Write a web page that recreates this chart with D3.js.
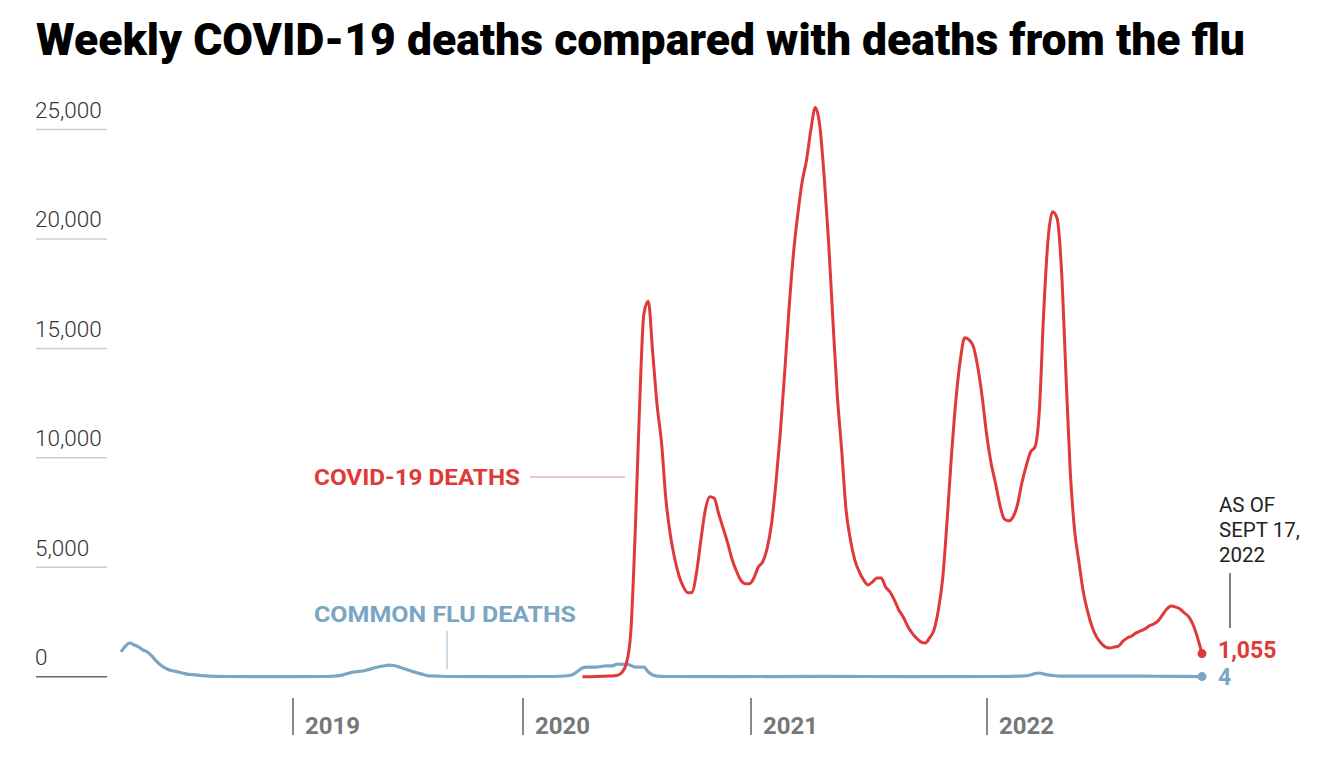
<!DOCTYPE html>
<html><head><meta charset="utf-8">
<script src="https://cdn.jsdelivr.net/npm/d3@7"></script>
<style>body{margin:0;background:#fff;} svg{display:block}</style>
</head><body><svg id="c" width="1322" height="760"></svg>
<script>
// ---------- DATA ----------
const titleText = "Weekly COVID-19 deaths compared with deaths from the flu";
const startDate = "2017-12-30";   // week 0
const endDate = "2022-09-17";     // last reported week
const yTickValues = [0, 5000, 10000, 15000, 20000, 25000];
const yearTickDates = ["2018-09-30", "2019-10-01", "2020-09-29", "2021-10-10"];
const yearTickLabels = ["2019", "2020", "2021", "2022"];
const asOfLines = ["AS OF", "SEPT 17,", "2022"];
const covidLabel = "COVID-19 DEATHS";
const fluLabel = "COMMON FLU DEATHS";

const fluWeek = [0,1,2,3,4,5,6,7,8,9,10,11,12,13,14,15,16,17,18,20,24,30,40,46,48,50,52,53,55,56,58,60,61,62,63,64,65,66,67,68,69,70,72,75,85,95,100,102,103,104,105,106,108,110,112,113,114,115,116,117,118,119,120,121,122,124,140,160,180,200,205,207,208,209,210,211,212,214,225,235,246];
const fluDeaths = [1130,1400,1540,1450,1360,1220,1130,950,720,530,400,310,260,215,170,120,100,80,55,30,10,5,5,10,20,60,170,215,260,310,420,500,530,510,460,400,330,260,200,140,90,40,30,10,5,10,20,55,120,260,400,440,440,490,510,580,560,580,510,440,440,440,215,80,30,10,5,15,5,10,30,80,145,170,120,80,55,30,30,20,4];

const covidWeek = [105,108,111,113,114,115,116,117,118,119,120,121,122,123,124,125,126,127,128,129,130,131,132,133,134,135,136,137,138,139,140,141,142,143,144,145,146,147,148,149,150,151,152,153,154,155,156,157,158,159,160,161,162,163,164,165,166,167,168,169,170,171,172,173,174,175,176,177,178,179,180,181,182,183,184,185,186,187,188,189,190,191,192,193,194,195,196,197,198,199,200,201,202,203,204,205,206,207,208,209,210,211,212,213,214,215,216,217,218,219,220,221,222,223,224,225,226,227,228,229,230,231,232,233,234,235,236,237,238,239,240,241,242,243,244,245,246];
const covidDeaths = [0,5,30,70,200,600,2000,6500,12300,16600,17150,14800,12400,10700,8100,6500,5400,4600,4100,3830,3860,4800,6300,7650,8220,8150,7450,6800,6150,5400,4850,4420,4250,4250,4500,5000,5240,5830,6930,8760,11050,13800,16750,19270,21100,22600,23600,25000,26000,25200,22900,19950,16300,12870,10360,7620,6250,5330,4790,4420,4190,4330,4510,4510,4100,3870,3500,3050,2730,2320,2000,1770,1590,1540,1770,2130,3050,4510,7160,10130,12650,14470,15480,15390,15070,14110,12740,11050,9760,8850,7850,7210,7120,7300,7850,8850,9630,10270,10500,12190,16760,20050,21240,20960,18680,14020,9450,6700,5240,3870,2960,2270,1820,1540,1360,1310,1360,1400,1630,1770,1860,2000,2090,2180,2320,2410,2550,2820,3090,3230,3180,3090,2910,2730,2360,1770,1055];

// ---------- CHART ----------
const RED = "#e0393a", BLUE = "#7aa6c2";
const svg = d3.select("#c");
const parse = d3.timeParse("%Y-%m-%d");
const t0 = parse(startDate);
const weekDate = w => d3.timeDay.offset(t0, 7 * w);

const x = d3.scaleTime().domain([t0, parse(endDate)]).range([121, 1202]);
const y = d3.scaleLinear().domain([0, 25000]).range([676.7, 129.5]);

// title
svg.append("text").attr("x", 36).attr("y", 55)
  .attr("font-family", "Roboto, 'Noto Sans', sans-serif").attr("font-weight", 900)
  .attr("font-size", 44).attr("fill", "#000")
  .attr("textLength", 1209).attr("lengthAdjust", "spacingAndGlyphs")
  .text(titleText);

// y grid + labels
const fmt = d3.format(",");
const yg = svg.append("g");
yTickValues.forEach(v => {
  yg.append("line").attr("x1", 36).attr("x2", 107).attr("y1", y(v)).attr("y2", y(v))
    .attr("stroke", v === 0 ? "#666" : "#ccc").attr("stroke-width", 1.5);
  yg.append("text").attr("x", 35).attr("y", y(v) - 11.5)
    .attr("font-family", "Roboto, sans-serif").attr("font-weight", 300)
    .attr("font-size", 22.5).attr("fill", "#333").text(fmt(v));
});

// year ticks
yearTickDates.forEach((d, i) => {
  const xx = Math.round(x(parse(d)));
  svg.append("line").attr("x1", xx).attr("x2", xx).attr("y1", 698).attr("y2", 735)
    .attr("stroke", "#888").attr("stroke-width", 2);
  svg.append("text").attr("x", xx + 12).attr("y", 734)
    .attr("font-family", "Roboto, sans-serif").attr("font-weight", 700)
    .attr("font-size", 24).attr("fill", "#777").text(yearTickLabels[i]);
});

const fluData = fluWeek.map((w, i) => ({ d: weekDate(w), v: fluDeaths[i] }));
const covidData = covidWeek.map((w, i) => ({ d: weekDate(w), v: covidDeaths[i] }));
const line = d3.line().x(p => x(p.d)).y(p => y(p.v)).curve(d3.curveMonotoneX);

svg.append("path").datum(fluData).attr("d", line).attr("fill", "none")
  .attr("stroke", BLUE).attr("stroke-width", 3.2).attr("stroke-linejoin", "round");
svg.append("path").datum(covidData).attr("d", line).attr("fill", "none")
  .attr("stroke", RED).attr("stroke-width", 3).attr("stroke-linejoin", "round");

// end dots and values
const lastC = covidData[covidData.length - 1], lastF = fluData[fluData.length - 1];
svg.append("circle").attr("cx", x(lastC.d)).attr("cy", y(lastC.v)).attr("r", 4.5).attr("fill", RED);
svg.append("circle").attr("cx", x(lastF.d)).attr("cy", y(lastF.v)).attr("r", 4.5).attr("fill", BLUE);
svg.append("text").attr("x", 1218).attr("y", y(lastC.v) + 4)
  .attr("font-family", "Roboto, sans-serif").attr("font-weight", 700).attr("font-size", 23)
  .attr("fill", RED).text(fmt(lastC.v));
svg.append("text").attr("x", 1218).attr("y", y(lastF.v) + 8)
  .attr("font-family", "Roboto, sans-serif").attr("font-weight", 700).attr("font-size", 23)
  .attr("fill", BLUE).text(fmt(lastF.v));

// as-of note
asOfLines.forEach((s, i) => {
  svg.append("text").attr("x", 1219).attr("y", 512 + i * 25)
    .attr("font-family", "Roboto, sans-serif").attr("font-weight", 400).attr("font-size", 20.5)
    .attr("fill", "#222").text(s);
});
svg.append("line").attr("x1", 1230).attr("x2", 1230).attr("y1", 573).attr("y2", 628)
  .attr("stroke", "#555").attr("stroke-width", 1.5);

// series labels
svg.append("text").attr("x", 314).attr("y", 485)
  .attr("font-family", "Roboto, sans-serif").attr("font-weight", 700).attr("font-size", 22)
  .attr("fill", RED).attr("textLength", 206).attr("lengthAdjust", "spacingAndGlyphs").text(covidLabel);
svg.append("line").attr("x1", 530).attr("x2", 625).attr("y1", 477).attr("y2", 477)
  .attr("stroke", "#ea8a88").attr("stroke-width", 1.2);
svg.append("text").attr("x", 314).attr("y", 622)
  .attr("font-family", "Roboto, sans-serif").attr("font-weight", 700).attr("font-size", 22)
  .attr("fill", BLUE).attr("textLength", 262).attr("lengthAdjust", "spacingAndGlyphs").text(fluLabel);
svg.append("line").attr("x1", 447).attr("x2", 447).attr("y1", 631).attr("y2", 669)
  .attr("stroke", "#a9c6d8").attr("stroke-width", 1.2);
</script></body></html>
